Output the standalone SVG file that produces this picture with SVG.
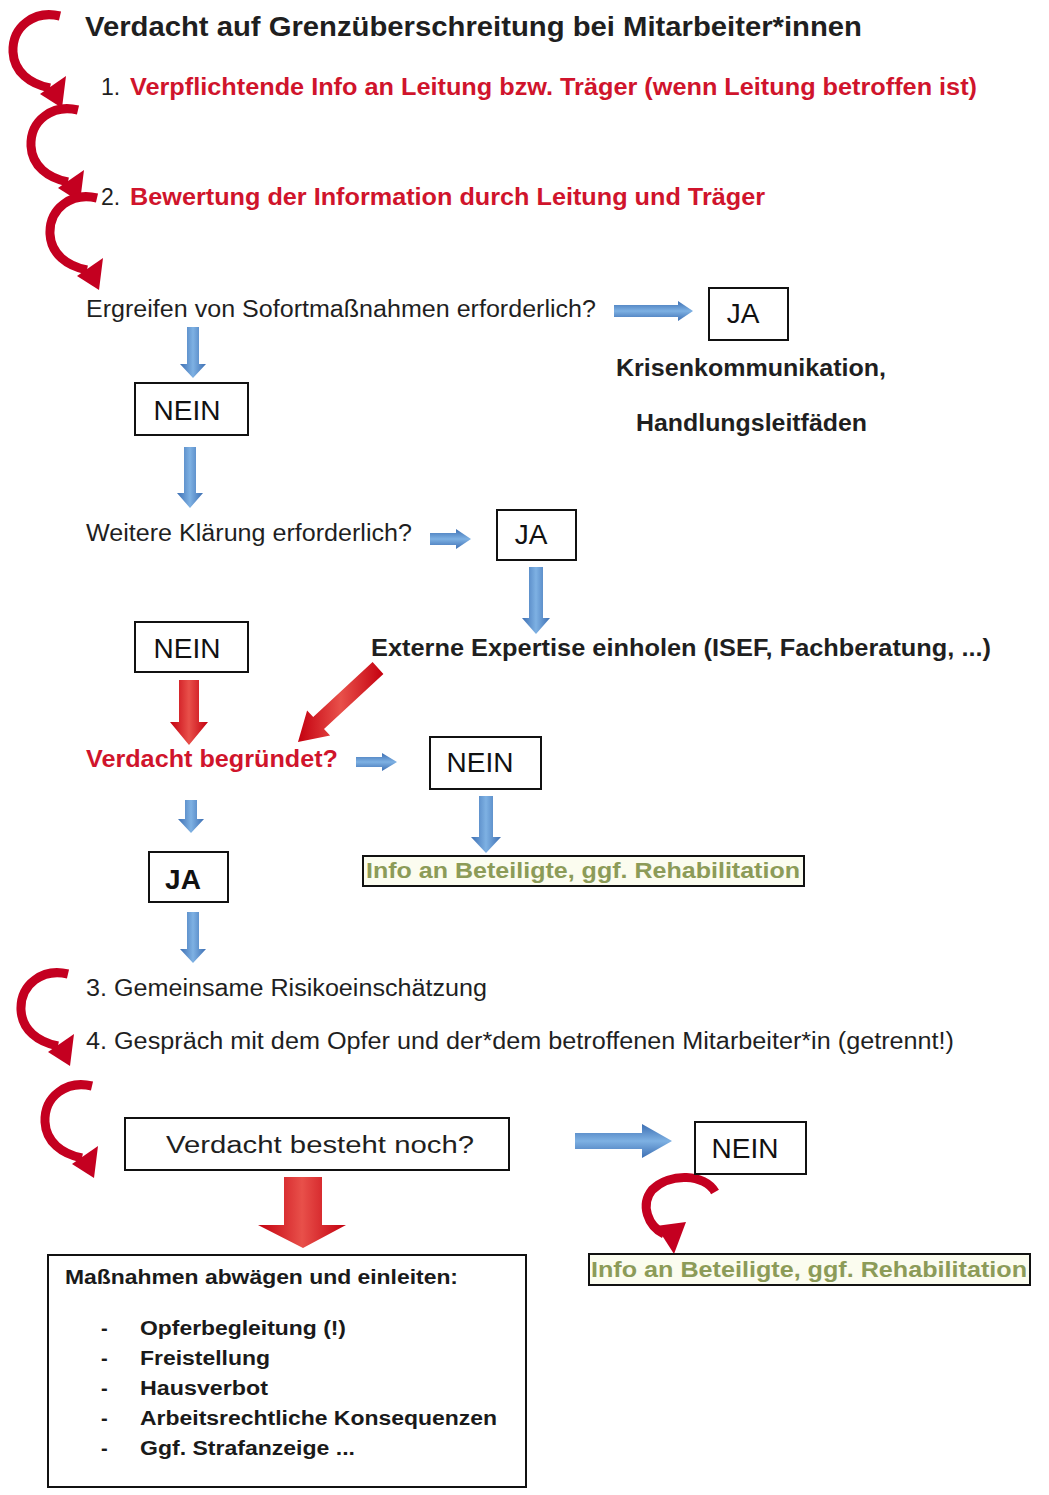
<svg xmlns="http://www.w3.org/2000/svg" xmlns:xlink="http://www.w3.org/1999/xlink" width="1049" height="1495" viewBox="0 0 1049 1495">
<style>
text{font-family:"Liberation Sans",Arial,sans-serif}
.t{font-size:23px;fill:#1f1f1f}
.b{font-weight:bold}
.red{fill:#d0142c}
.lbl{font-size:28px;fill:#111;text-anchor:middle}
.box{fill:#fff;stroke:#111;stroke-width:2}
.info{fill:#fbfcef;stroke:#111;stroke-width:2}
.infot{font-size:22px;font-weight:bold;fill:#8c9b58}
.list{font-size:20px;font-weight:bold;fill:#1a1a1a}
.bl{fill:url(#gb)}
.blh{fill:url(#gbh)}
.rd{fill:url(#gr)}
</style>
<defs>
<linearGradient id="gb" x1="0" y1="0" x2="1" y2="0">
<stop offset="0" stop-color="#3d6fb3"/><stop offset="0.5" stop-color="#7eb1e3"/><stop offset="1" stop-color="#3d6fb3"/>
</linearGradient>
<linearGradient id="gbh" x1="0" y1="0" x2="0" y2="1">
<stop offset="0" stop-color="#3d6fb3"/><stop offset="0.5" stop-color="#7eb1e3"/><stop offset="1" stop-color="#3d6fb3"/>
</linearGradient>
<linearGradient id="gr" x1="0" y1="0" x2="1" y2="0">
<stop offset="0" stop-color="#c4000f"/><stop offset="0.5" stop-color="#e8504a"/><stop offset="1" stop-color="#c4000f"/>
</linearGradient>
<g id="curl">
<path d="M50 4 C25 -2 2 14 3 40 C4 60 20 72 40 76" fill="none" stroke="#c40020" stroke-width="9"/>
<polygon points="56,64 30,82 52,96" fill="#c40020"/>
</g>
</defs>

<g id="connectors">
<use xlink:href="#curl" x="10" y="12"/>
<use xlink:href="#curl" x="28" y="106"/>
<use xlink:href="#curl" x="47" y="194"/>
<use xlink:href="#curl" x="18" y="970"/>
<use xlink:href="#curl" x="42" y="1082"/>
<path d="M715 1192 C705 1174 670 1172 652 1190 C640 1205 648 1226 664 1234" fill="none" stroke="#c40020" stroke-width="9"/>
<polygon points="656,1226 686,1222 674,1254" fill="#c40020"/>

<polygon class="blh" points="614,305 678,305 678,301 693,311 678,321 678,317 614,317"/>
<polygon class="bl" points="187,327 199,327 199,364 206,364 193,378 180,364 187,364"/>
<polygon class="bl" points="184,447 196,447 196,493 203,493 190,508 177,493 184,493"/>
<polygon class="blh" points="430,533 456,533 456,529 471,539 456,549 456,545 430,545"/>
<polygon class="bl" points="529,567 543,567 543,618 550,618 536,634 522,618 529,618"/>
<polygon class="rd" points="179,680 199,680 199,722 208,722 189,745 170,722 179,722"/>
<polygon class="rd" points="372.6,662.1 383.4,673.9 324,728.9 330.1,735.5 298,742 307.1,710.5 313.2,717.1"/>
<polygon class="blh" points="356,757 382,757 382,753 397,762 382,771 382,767 356,767"/>
<polygon class="bl" points="479,796 493,796 493,837 501,837 486,853 471,837 479,837"/>
<polygon class="bl" points="185,800 197,800 197,819 204,819 191,833 178,819 185,819"/>
<polygon class="bl" points="187,912 199,912 199,949 206,949 193,963 180,949 187,949"/>
<polygon class="blh" points="575,1133 642,1133 642,1124 672,1141 642,1158 642,1149 575,1149"/>
<polygon class="rd" points="284,1177 322,1177 322,1225 346,1225 303,1248 258,1225 284,1225"/>
</g>

<g id="title">
<text x="85" y="36" class="b" font-size="28" fill="#1f1f1f" textLength="777" lengthAdjust="spacingAndGlyphs">Verdacht auf Grenzüberschreitung bei Mitarbeiter*innen</text>
</g>
<g id="step1">
<text x="101" y="95" class="t">1.</text>
<text x="130" y="95" class="t b red" textLength="847" lengthAdjust="spacingAndGlyphs">Verpflichtende Info an Leitung bzw. Träger (wenn Leitung betroffen ist)</text>
</g>
<g id="step2">
<text x="101" y="205" class="t">2.</text>
<text x="130" y="205" class="t b red" textLength="635" lengthAdjust="spacingAndGlyphs">Bewertung der Information durch Leitung und Träger</text>
</g>
<g id="q-sofort">
<text x="86" y="317" class="t" textLength="510" lengthAdjust="spacingAndGlyphs">Ergreifen von Sofortmaßnahmen erforderlich?</text>
</g>
<g id="ja1">
<rect class="box" x="709" y="288" width="79" height="52"/>
<text x="743" y="323" class="lbl">JA</text>
</g>
<g id="krise">
<text x="616" y="376" class="t b" font-size="22" textLength="270" lengthAdjust="spacingAndGlyphs">Krisenkommunikation,</text>
<text x="636" y="431" class="t b" font-size="22" textLength="231" lengthAdjust="spacingAndGlyphs">Handlungsleitfäden</text>
</g>
<g id="nein1">
<rect class="box" x="135" y="383" width="113" height="52"/>
<text x="187" y="420" class="lbl">NEIN</text>
</g>
<g id="q-klaerung">
<text x="86" y="541" class="t" textLength="326" lengthAdjust="spacingAndGlyphs">Weitere Klärung erforderlich?</text>
</g>
<g id="ja2">
<rect class="box" x="497" y="510" width="79" height="50"/>
<text x="531" y="544" class="lbl">JA</text>
</g>
<g id="extern">
<text x="371" y="656" class="t b" font-size="22" textLength="620" lengthAdjust="spacingAndGlyphs">Externe Expertise einholen (ISEF, Fachberatung, ...)</text>
</g>
<g id="nein2">
<rect class="box" x="135" y="622" width="113" height="50"/>
<text x="187" y="658" class="lbl">NEIN</text>
</g>
<g id="q-begruendet">
<text x="86" y="767" class="t b red" font-size="24" textLength="252" lengthAdjust="spacingAndGlyphs">Verdacht begründet?</text>
</g>
<g id="nein3">
<rect class="box" x="430" y="737" width="111" height="52"/>
<text x="480" y="772" class="lbl">NEIN</text>
</g>
<g id="info1">
<rect class="info" x="363" y="856" width="441" height="30"/>
<text x="366" y="878" class="infot" textLength="434" lengthAdjust="spacingAndGlyphs">Info an Beteiligte, ggf. Rehabilitation</text>
</g>
<g id="ja3">
<rect class="box" x="149" y="852" width="79" height="50"/>
<text x="183" y="889" class="lbl b red">JA</text>
</g>
<g id="step3">
<text x="86" y="996" class="t" textLength="401" lengthAdjust="spacingAndGlyphs">3. Gemeinsame Risikoeinschätzung</text>
</g>
<g id="step4">
<text x="86" y="1049" class="t" textLength="868" lengthAdjust="spacingAndGlyphs">4. Gespräch mit dem Opfer und der*dem betroffenen Mitarbeiter*in (getrennt!)</text>
</g>
<g id="q-besteht">
<rect class="box" x="125" y="1118" width="384" height="52"/>
<text x="166" y="1153" class="t" font-size="29" textLength="308" lengthAdjust="spacingAndGlyphs">Verdacht besteht noch?</text>
</g>
<g id="nein4">
<rect class="box" x="695" y="1122" width="111" height="52"/>
<text x="745" y="1158" class="lbl">NEIN</text>
</g>
<g id="info2">
<rect class="info" x="589" y="1254" width="441" height="31"/>
<text x="591" y="1277" class="infot" textLength="436" lengthAdjust="spacingAndGlyphs">Info an Beteiligte, ggf. Rehabilitation</text>
</g>
<g id="massnahmen">
<rect class="box" x="48" y="1255" width="478" height="232"/>
<text x="65" y="1284" class="list" textLength="393" lengthAdjust="spacingAndGlyphs">Maßnahmen abwägen und einleiten:</text>
<text x="101" y="1335" class="list">-</text>
<text x="140" y="1335" class="list" textLength="206" lengthAdjust="spacingAndGlyphs">Opferbegleitung (!)</text>
<text x="101" y="1365" class="list">-</text>
<text x="140" y="1365" class="list" textLength="130" lengthAdjust="spacingAndGlyphs">Freistellung</text>
<text x="101" y="1395" class="list">-</text>
<text x="140" y="1395" class="list" textLength="128" lengthAdjust="spacingAndGlyphs">Hausverbot</text>
<text x="101" y="1425" class="list">-</text>
<text x="140" y="1425" class="list" textLength="357" lengthAdjust="spacingAndGlyphs">Arbeitsrechtliche Konsequenzen</text>
<text x="101" y="1455" class="list">-</text>
<text x="140" y="1455" class="list" textLength="215" lengthAdjust="spacingAndGlyphs">Ggf. Strafanzeige ...</text>
</g>
</svg>
